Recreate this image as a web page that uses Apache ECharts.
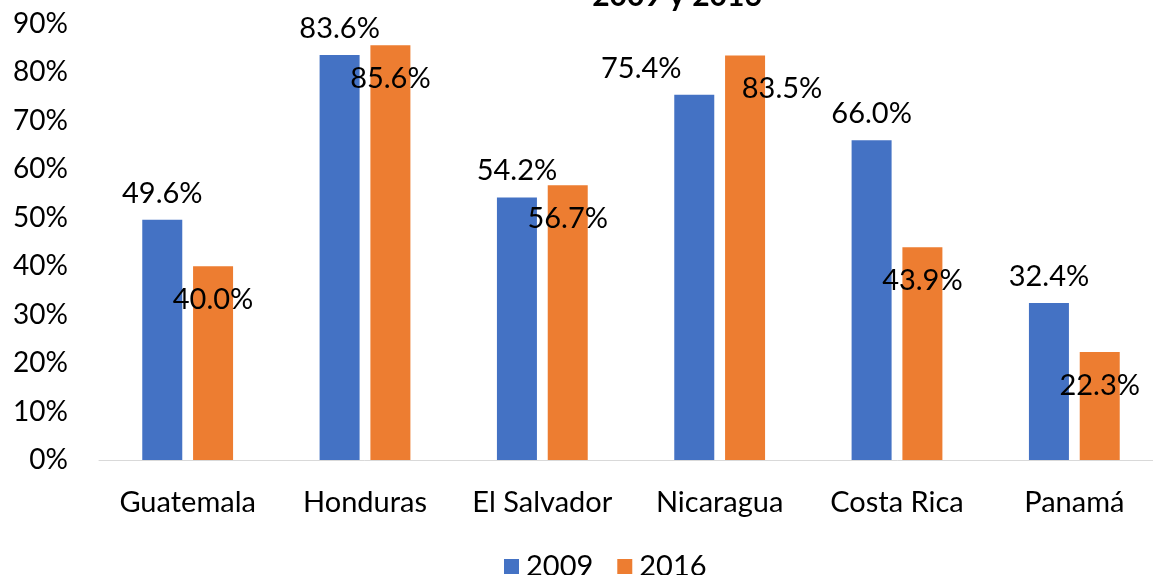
<!DOCTYPE html>
<html><head><meta charset="utf-8">
<script src="https://cdn.jsdelivr.net/npm/echarts@6/dist/echarts.min.js"></script>
<style>html,body{margin:0;padding:0;background:#fff;overflow:hidden}#c{width:1170px;height:575px}</style>
</head><body><div id="c"></div>
<script>
const categories = ['Guatemala', 'Honduras', 'El Salvador', 'Nicaragua', 'Costa Rica', 'Panamá'];
const values2009 = [49.6, 83.6, 54.2, 75.4, 66.0, 32.4];
const values2016 = [40.0, 85.6, 56.7, 83.5, 43.9, 22.3];
const seriesNames = ['2009', '2016'];
const titleText = '2009 y 2016';
const FONT = 'Lato, "Noto Sans", sans-serif';

// manual label nudges (Nicaragua) as in the original chart
const data2009 = values2009.map((v, i) => i === 3 ? { value: v, label: { offset: [-53, 0] } } : v);
const data2016 = values2016.map((v, i) => i === 3 ? { value: v, label: { offset: [37, 0] } } : v);

const chart = echarts.init(document.getElementById('c'));
chart.setOption({
  animation: false,
  title: {
    text: titleText, left: 672, top: -24, textAlign: 'center',
    textStyle: { fontFamily: FONT, fontSize: 30, fontWeight: 'bold', color: '#000' }
  },
  grid: { left: 99, right: 7, top: 24, bottom: 115, containLabel: false },
  legend: {
    top: 547, left: 499, itemWidth: 15, itemHeight: 15, itemGap: 24,
    icon: 'rect',
    textStyle: { fontFamily: FONT, fontSize: 29, color: '#000', padding: [0, 0, 0, 2] },
    data: seriesNames
  },
  xAxis: {
    type: 'category', data: categories,
    axisLine: { lineStyle: { color: '#d9d9d9', width: 1 } },
    axisTick: { show: false },
    axisLabel: { fontFamily: FONT, fontSize: 29, color: '#000', margin: 28, interval: 0 }
  },
  yAxis: {
    type: 'value', min: 0, max: 90, interval: 10,
    splitLine: { show: false },
    axisLine: { show: false }, axisTick: { show: false },
    axisLabel: { fontFamily: FONT, fontSize: 28, color: '#000', margin: 31, formatter: '{value}%' }
  },
  series: [
    {
      name: seriesNames[0], type: 'bar', data: data2009, barWidth: 40, barGap: '27%',
      itemStyle: { color: '#4472c4' },
      label: { show: true, position: 'top', distance: 12, fontFamily: FONT, fontSize: 29, color: '#000',
        formatter: p => p.value.toFixed(1) + '%' }
    },
    {
      name: seriesNames[1], type: 'bar', data: data2016, barWidth: 40,
      itemStyle: { color: '#ed7d31' },
      label: { show: true, position: 'insideTop', distance: 19, fontFamily: FONT, fontSize: 29, color: '#000',
        formatter: p => p.value.toFixed(1) + '%' }
    }
  ]
});
</script></body></html>
